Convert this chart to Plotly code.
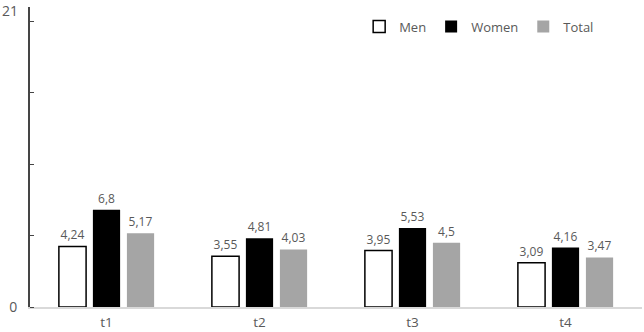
import plotly.graph_objects as go

categories = ["t1", "t2", "t3", "t4"]
men = [4.24, 3.55, 3.95, 3.09]
women = [6.8, 4.81, 5.53, 4.16]
total = [5.17, 4.03, 4.5, 3.47]
y_max = 21

def fmt(v):
    return ("%g" % v).replace(".", ",")

label_font = dict(family="Open Sans, Noto Sans, sans-serif", size=12, color="#595959")

fig = go.Figure()
fig.add_trace(go.Bar(name="Men", x=categories, y=men,
                     marker=dict(color="white", line=dict(color="black", width=1.5)),
                     text=[fmt(v) for v in men], textposition="outside",
                     textfont=label_font, cliponaxis=False))
fig.add_trace(go.Bar(name="Women", x=categories, y=women,
                     marker=dict(color="black", line=dict(color="black", width=0)),
                     text=[fmt(v) for v in women], textposition="outside",
                     textfont=label_font, cliponaxis=False))
fig.add_trace(go.Bar(name="Total", x=categories, y=total,
                     marker=dict(color="#a5a5a5", line=dict(width=0)),
                     text=[fmt(v) for v in total], textposition="outside",
                     textfont=label_font, cliponaxis=False))

fig.update_layout(
    width=644, height=332,
    margin=dict(l=30, r=2, t=7, b=25, autoexpand=False),
    plot_bgcolor="white", paper_bgcolor="white",
    barmode="group", bargap=0.333, bargroupgap=0.2,
    font=dict(family="Open Sans, Noto Sans, sans-serif", color="#595959"),
    showlegend=True,
    legend=dict(orientation="h", x=0.93, xanchor="right", y=0.985, yanchor="top",
                font=dict(size=13, color="#595959"), bgcolor="rgba(0,0,0,0)",
                itemwidth=30, tracegroupgap=0),
    annotations=[dict(text=str(y_max), x=0, y=y_max, xref="paper", yref="y",
                      xanchor="right", yanchor="middle", xshift=-10, yshift=-3,
                      showarrow=False, font=dict(size=14, color="#595959"))],
)
fig.update_yaxes(range=[0, y_max * 1.00005], tickvals=[0], ticktext=["0"],
                 ticks="", showgrid=False, zeroline=False, automargin=False,
                 ticklabeloverflow="allow", ticklabelstandoff=8,
                 showline=True, linecolor="#454545", linewidth=2,
                 tickfont=dict(size=14, color="#595959"),
                 minor=dict(tick0=0, dtick=5, ticks="inside", ticklen=4,
                            tickcolor="#454545", tickwidth=1, showgrid=False))
fig.update_xaxes(showline=True, linecolor="#d9d9d9", linewidth=1.5, automargin=False,
                 ticklabeloverflow="allow", ticklabelstandoff=2,
                 showgrid=False, ticks="", tickfont=dict(size=13.5, color="#595959"))

fig.write_html("out.html", config={"displayModeBar": False},
               post_script="document.body.style.margin='0';")
